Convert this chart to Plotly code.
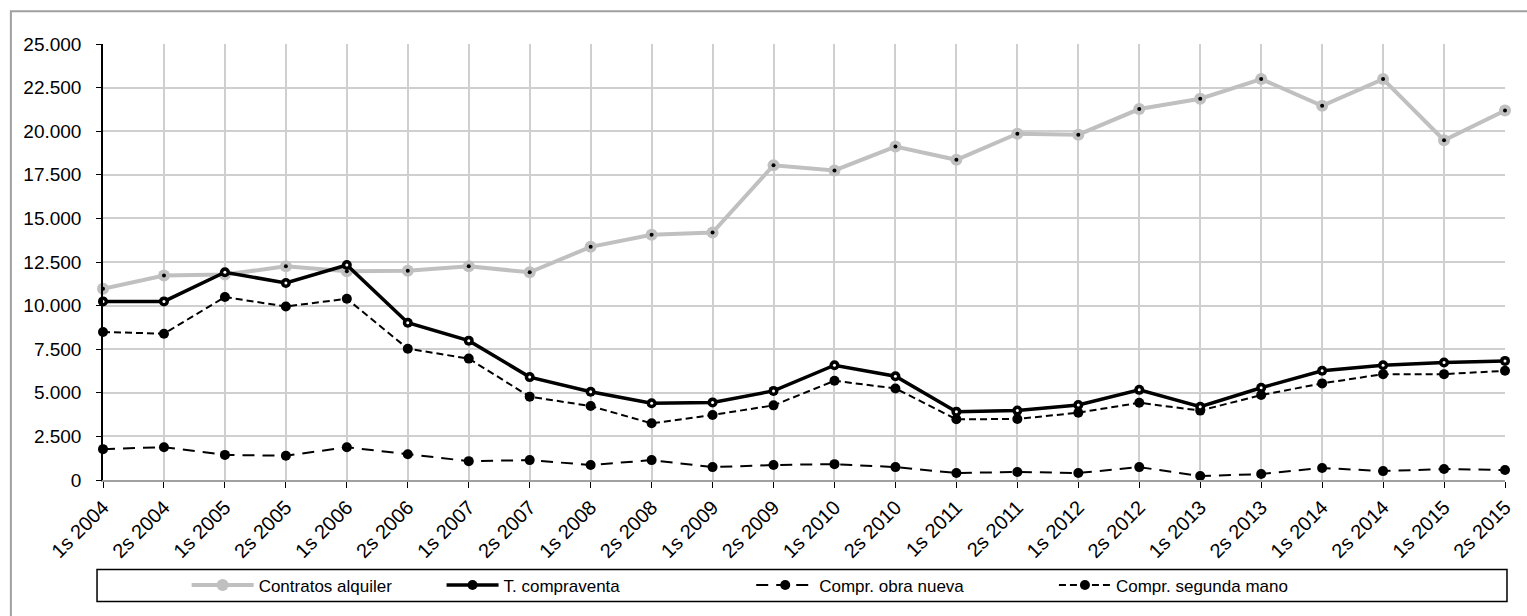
import plotly.graph_objects as go

# Semesters on the x axis
periodos = [
    "1s 2004", "2s 2004", "1s 2005", "2s 2005", "1s 2006", "2s 2006",
    "1s 2007", "2s 2007", "1s 2008", "2s 2008", "1s 2009", "2s 2009",
    "1s 2010", "2s 2010", "1s 2011", "2s 2011", "1s 2012", "2s 2012",
    "1s 2013", "2s 2013", "1s 2014", "2s 2014", "1s 2015", "2s 2015",
]

contratos_alquiler = [
    10960, 11720, 11780, 12250, 11970, 12000, 12250, 11910, 13370, 14060,
    14190, 18050, 17750, 19120, 18360, 19860, 19800, 21270, 21860, 22990,
    21460, 22990, 19480, 21190,
]
total_compraventa = [
    10240, 10240, 11910, 11300, 12330, 9020, 7990, 5900, 5060, 4400,
    4450, 5110, 6580, 5950, 3920, 3980, 4300, 5170, 4200, 5290,
    6260, 6580, 6740, 6830,
]
compr_obra_nueva = [
    1770, 1880, 1440, 1390, 1880, 1480, 1080, 1140, 860, 1140,
    740, 860, 910, 740, 400, 460, 400, 740, 230, 340,
    690, 510, 630, 570,
]
compr_segunda_mano = [
    8490, 8390, 10490, 9950, 10390, 7530, 6960, 4780, 4240, 3250,
    3730, 4280, 5690, 5250, 3480, 3500, 3860, 4430, 3980, 4870,
    5540, 6070, 6070, 6260,
]

y_ticks = [0, 2500, 5000, 7500, 10000, 12500, 15000, 17500, 20000, 22500, 25000]
y_tick_text = ["0", "2.500", "5.000", "7.500", "10.000", "12.500", "15.000",
               "17.500", "20.000", "22.500", "25.000"]

W, H = 1527, 616
ML, MR, MT, MB = 103, 16, 44, 134
PW, PH = W - ML - MR, H - MT - MB
Y_RANGE = [0, 25000]


def px_x(p):
    return (p - ML) / PW


def px_y(p):
    return (H - MB - p) / PH


FONT = "Liberation Sans, Arial, sans-serif"
GRAY = "#c0c0c0"

fig = go.Figure()

# Rental contracts: thick grey line, grey dots with a black centre
fig.add_trace(go.Scatter(
    x=periodos, y=contratos_alquiler, mode="lines+markers",
    name="Contratos alquiler", legend="legend",
    line=dict(color=GRAY, width=4),
    marker=dict(color=GRAY, size=12, symbol="circle"),
    cliponaxis=False,
))
fig.add_trace(go.Scatter(
    x=periodos, y=contratos_alquiler, mode="markers", showlegend=False,
    yaxis="y2",
    marker=dict(color="black", size=4), cliponaxis=False, hoverinfo="skip",
))

# Second-hand purchases: short dashes
fig.add_trace(go.Scatter(
    x=periodos, y=compr_segunda_mano, mode="lines+markers",
    name="Compr. segunda mano", legend="legend4",
    line=dict(color="black", width=2, dash="7px,4px"),
    marker=dict(color="black", size=10), cliponaxis=False,
))

# New-build purchases: long dashes
fig.add_trace(go.Scatter(
    x=periodos, y=compr_obra_nueva, mode="lines+markers",
    name="Compr. obra nueva", legend="legend3",
    line=dict(color="black", width=2, dash="12px,8px"),
    marker=dict(color="black", size=10), cliponaxis=False,
))

# Total purchases: thick solid black line, ring markers
fig.add_trace(go.Scatter(
    x=periodos, y=total_compraventa, mode="lines+markers",
    name="T. compraventa", legend="legend2",
    line=dict(color="black", width=3.5),
    marker=dict(color="black", size=10), cliponaxis=False,
))
fig.add_trace(go.Scatter(
    x=periodos, y=total_compraventa, mode="markers", showlegend=False,
    yaxis="y2",
    marker=dict(color="white", size=3), cliponaxis=False, hoverinfo="skip",
))


def legend_at(x_px, item_w):
    return dict(
        orientation="h", yanchor="middle", y=px_y(588), xanchor="left",
        x=px_x(x_px), bgcolor="rgba(0,0,0,0)", borderwidth=0,
        itemwidth=item_w,
        font=dict(family=FONT, size=17, color="black"),
    )


fig.update_layout(
    width=W, height=H,
    margin=dict(l=ML, r=MR, t=MT, b=MB, pad=0),
    paper_bgcolor="white", plot_bgcolor="white",
    font=dict(family=FONT, color="black"),
    legend=legend_at(187, 62),
    legend2=legend_at(443, 52),
    legend3=legend_at(754, 58),
    legend4=legend_at(1058, 52),
    xaxis=dict(
        type="category", range=[0, len(periodos) - 1],
        showgrid=True, gridcolor="#cfcfcf", gridwidth=1.5,
        showline=True, linecolor="#a0a0a0", linewidth=1.5,
        ticks="outside", ticklen=6, tickcolor="black", tickwidth=1,
        tickangle=-45, tickfont=dict(family=FONT, size=20, color="black"),
        zeroline=False,
    ),
    # labelled axis: long transparent ticks push the labels away from the line
    yaxis=dict(
        range=Y_RANGE, tickvals=y_ticks, ticktext=y_tick_text,
        showgrid=True, gridcolor="#cfcfcf", gridwidth=1.5,
        showline=True, linecolor="black", linewidth=1.5,
        ticks="outside", ticklen=16, tickcolor="rgba(0,0,0,0)", tickwidth=1,
        tickfont=dict(family=FONT, size=19, color="black"),
        zeroline=False,
    ),
    # overlay axis drawing the short visible tick marks
    yaxis2=dict(
        range=Y_RANGE, tickvals=y_ticks, overlaying="y", side="left",
        showticklabels=False, showgrid=False, showline=False, zeroline=False,
        ticks="outside", ticklen=6, tickcolor="black", tickwidth=1,
    ),
    shapes=[
        # outer chart frame
        dict(type="rect", xref="paper", yref="paper",
             x0=px_x(10.5), x1=px_x(1560), y0=px_y(640), y1=px_y(11),
             line=dict(color="#a0a0a0", width=2), fillcolor="rgba(0,0,0,0)",
             layer="below"),
        # legend box
        dict(type="rect", xref="paper", yref="paper",
             x0=px_x(97), x1=px_x(1513), y0=px_y(604), y1=px_y(572),
             line=dict(color="black", width=1.5), fillcolor="rgba(0,0,0,0)"),
    ],
)

fig.write_html("out.html")
